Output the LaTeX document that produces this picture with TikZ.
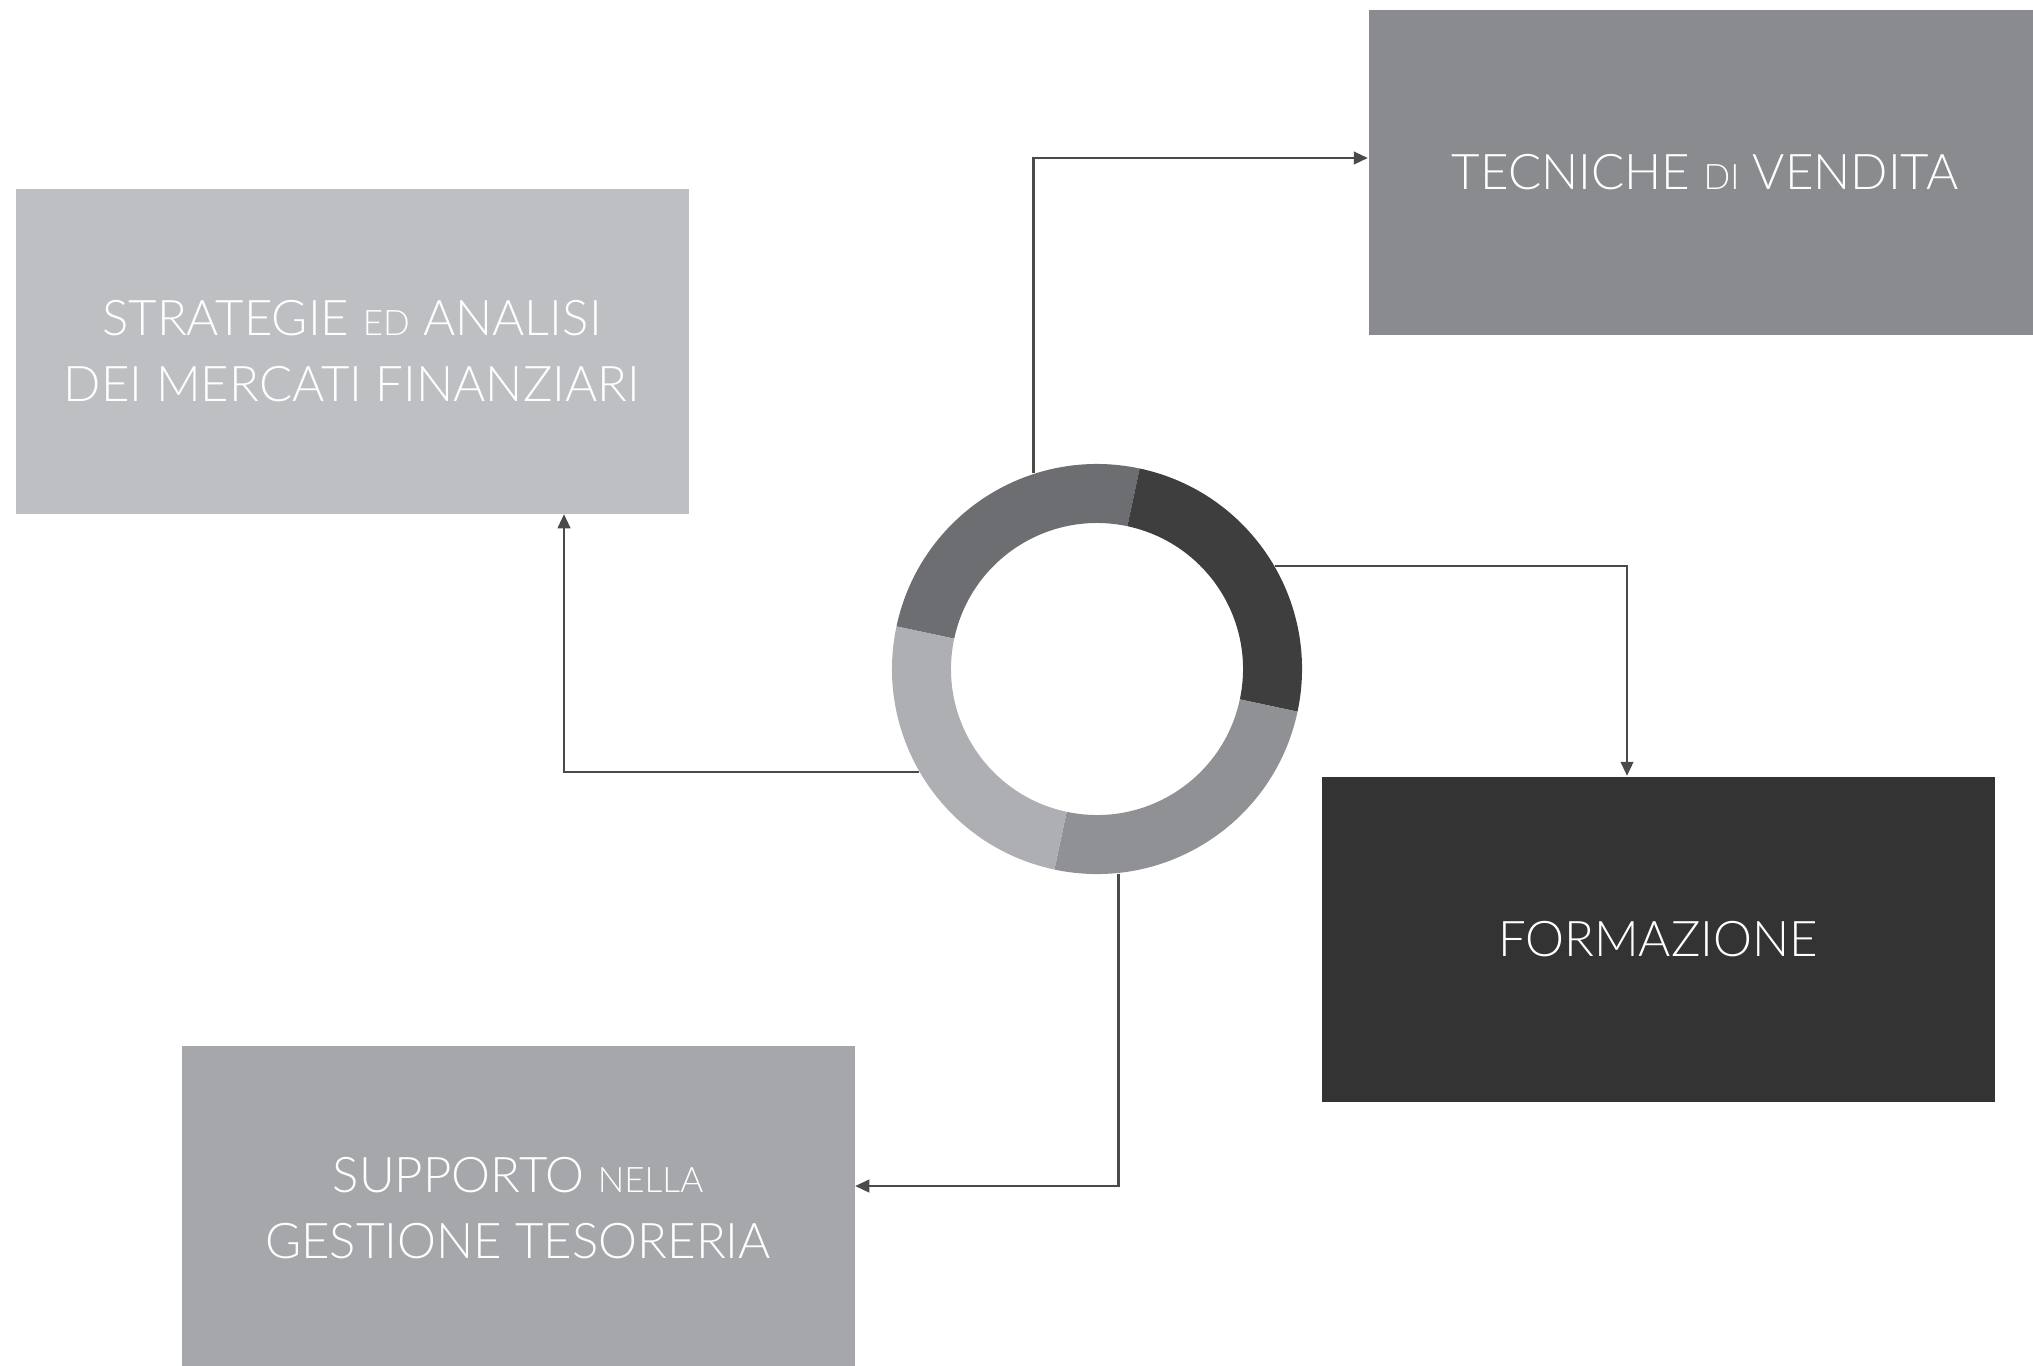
\documentclass[tikz,border=0pt]{standalone}
\usepackage{fontspec}
\setmainfont{Lato Light}
\usetikzlibrary{calc,arrows.meta}

\definecolor{stratgray}{HTML}{BEBFC2}
\definecolor{tecgray}{HTML}{8A8B8F}
\definecolor{formgray}{HTML}{333333}
\definecolor{suppgray}{HTML}{A6A7AB}
\definecolor{ringA}{HTML}{6D6E71}
\definecolor{ringB}{HTML}{3E3E3E}
\definecolor{ringC}{HTML}{8F9195}
\definecolor{ringD}{HTML}{AEAFB2}
\definecolor{linkgray}{HTML}{4A4A4A}

\newcommand{\lowcap}[1]{{\fontsize{10}{19}\selectfont #1}}

\begin{document}
\begin{tikzpicture}[
    link/.style={draw=linkgray,line width=0.6pt,-{Triangle[length=4pt,width=3.6pt]}}
  ]

        \useasboundingbox (0,0) rectangle (20.33,-13.65);

        \begin{scope}[every node/.style={rectangle,minimum width=6.73cm,minimum height=3.25cm,
            inner sep=0pt,align=center,text=white,font=\fontsize{14}{19}\selectfont}]
          \node[fill=stratgray] (strat) at (3.52,-3.51)  {STRATEGIE \lowcap{ED} ANALISI\\DEI MERCATI FINANZIARI};
          \node[fill=tecgray]   (tec)   at (17.05,-1.72) {TECNICHE \lowcap{DI} VENDITA};
          \node[fill=formgray]  (form)  at (16.58,-9.39) {FORMAZIONE};
          \node[fill=suppgray]  (supp)  at (5.18,-12.08) {SUPPORTO \lowcap{NELLA}\\GESTIONE TESORERIA};
        \end{scope}

        % ring
        \coordinate (hub) at (10.97,-6.69);
        \fill[ringA] ($(hub)+(78:2.05)$) arc[start angle=78,end angle=168,radius=2.05]
          -- ($(hub)+(168:1.46)$) arc[start angle=168,end angle=78,radius=1.46] -- cycle;
        \fill[ringB] ($(hub)+(-12:2.05)$) arc[start angle=-12,end angle=78,radius=2.05]
          -- ($(hub)+(78:1.46)$) arc[start angle=78,end angle=-12,radius=1.46] -- cycle;
        \fill[ringC] ($(hub)+(-102:2.05)$) arc[start angle=-102,end angle=-12,radius=2.05]
          -- ($(hub)+(-12:1.46)$) arc[start angle=-12,end angle=-102,radius=1.46] -- cycle;
        \fill[ringD] ($(hub)+(168:2.05)$) arc[start angle=168,end angle=258,radius=2.05]
          -- ($(hub)+(258:1.46)$) arc[start angle=258,end angle=168,radius=1.46] -- cycle;
        \node[circle,minimum size=4.1cm,inner sep=0pt] (ring) at (hub) {};

        % connectors
        \path[link] (ring.108.5) |- ($(tec.west)+(0,0.14)$);
        \path[link] (ring.30.4)  -| ($(form.north)+(-0.31,0)$);
        \path[link] (ring.210.4) -| ($(strat.south)+(2.12,0)$);
        \path[link] (ring.-84)   |- ($(supp.east)+(0,0.22)$);

      \end{tikzpicture}
\end{document}
